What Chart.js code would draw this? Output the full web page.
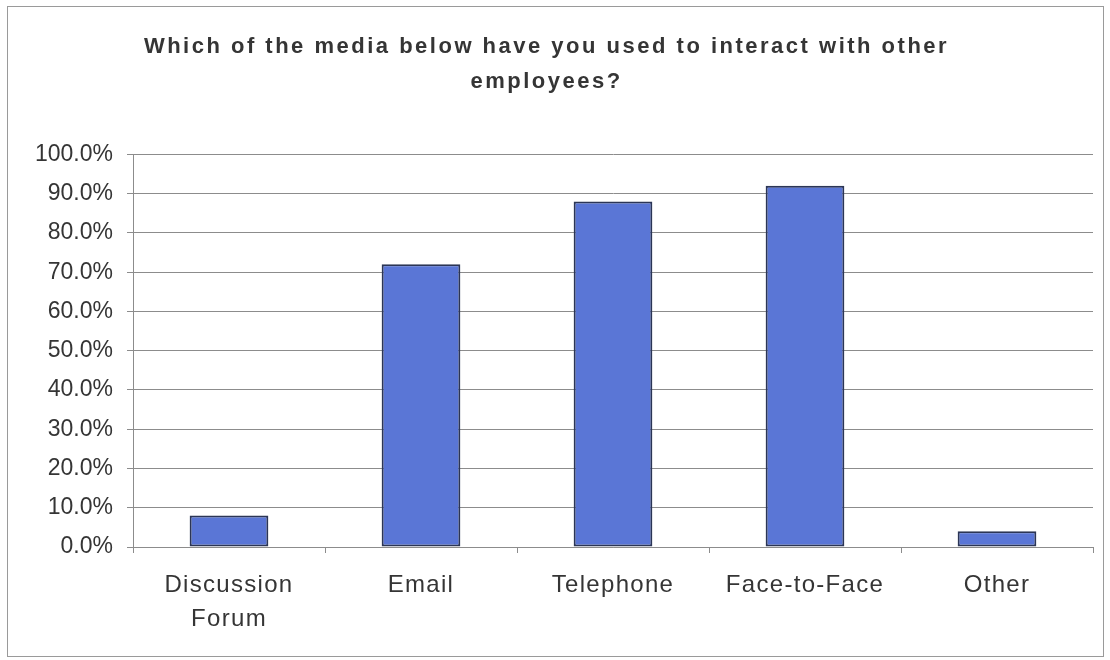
<!DOCTYPE html>
<html>
<head>
<meta charset="utf-8">
<script src="https://cdn.jsdelivr.net/npm/chart.js@4.4.1/dist/chart.umd.min.js"></script>
<style>
  html, body { margin: 0; padding: 0; background: #fff; }
  #wrap { position: relative; width: 1110px; height: 660px; }
  #frame { position: absolute; left: 7px; top: 6px; width: 1095px; height: 649px; border: 1px solid #9a9a9a; pointer-events: none; }
  canvas { position: absolute; left: 0; top: 0; }
</style>
</head>
<body>
<div id="wrap">
  <canvas id="chart" width="1110" height="660"></canvas>
  <div id="frame"></div>
</div>
<script>
// ---------- Data ----------
const categories = [['Discussion', 'Forum'], 'Email', 'Telephone', 'Face-to-Face', 'Other'];
const usedPct = [8, 72, 88, 92, 4];
const titleLines = ['Which of the media below have you used to interact with other', 'employees?'];

// ---------- Helpers ----------
const textColor = '#353535';
const gridColor = '#8c8c8c';

const ctx = document.getElementById('chart').getContext('2d');

const chart = new Chart(ctx, {
  type: 'bar',
  data: {
    labels: categories,
    datasets: [{
      label: 'Used',
      data: usedPct,
      backgroundColor: '#5a76d6',
      borderColor: '#2b3556',
      borderWidth: 2,
      borderSkipped: false,
      barPercentage: 0.41,
      categoryPercentage: 1
    }]
  },
  options: {
    responsive: false,
    animation: false,
    layout: { padding: { left: 0, right: 17, top: 0, bottom: 0 } },
    plugins: {
      legend: { display: false },
      tooltip: { enabled: false },
      title: {
        display: true,
        text: titleLines,
        color: textColor,
        font: { family: 'Liberation Sans', size: 22, weight: 'bold', lineHeight: 1.6 },
        padding: { top: 29, bottom: 55 }
      }
    },
    scales: {
      y: {
        min: 0,
        max: 100,
        ticks: {
          stepSize: 10,
          color: textColor,
          padding: 14,
          font: { family: 'Liberation Sans', size: 23 },
          callback: v => v.toFixed(1) + '%'
        },
        grid: { color: gridColor, lineWidth: 1, tickLength: 6 },
        border: { color: gridColor },
        afterFit(scale) { scale.width = 133; }
      },
      x: {
        ticks: {
          color: textColor,
          padding: 16,
          font: { family: 'Liberation Sans', size: 24, lineHeight: 1.4 },
          maxRotation: 0
        },
        grid: { drawOnChartArea: false, color: gridColor, tickLength: 6, offset: true },
        border: { color: gridColor },
        afterFit(scale) { scale.height = 113; }
      }
    }
  }
});

// ---------- Letter spacing for title and category labels ----------
function withSpacing(obj, method, px) {
  const orig = obj[method].bind(obj);
  obj[method] = function (area) {
    chart.ctx.save();
    chart.ctx.letterSpacing = px;
    orig(area);
    chart.ctx.restore();
  };
}
withSpacing(chart.titleBlock, 'draw', '2.5px');
withSpacing(chart.scales.x, 'drawLabels', '1.3px');
chart.draw();
</script>
</body>
</html>
